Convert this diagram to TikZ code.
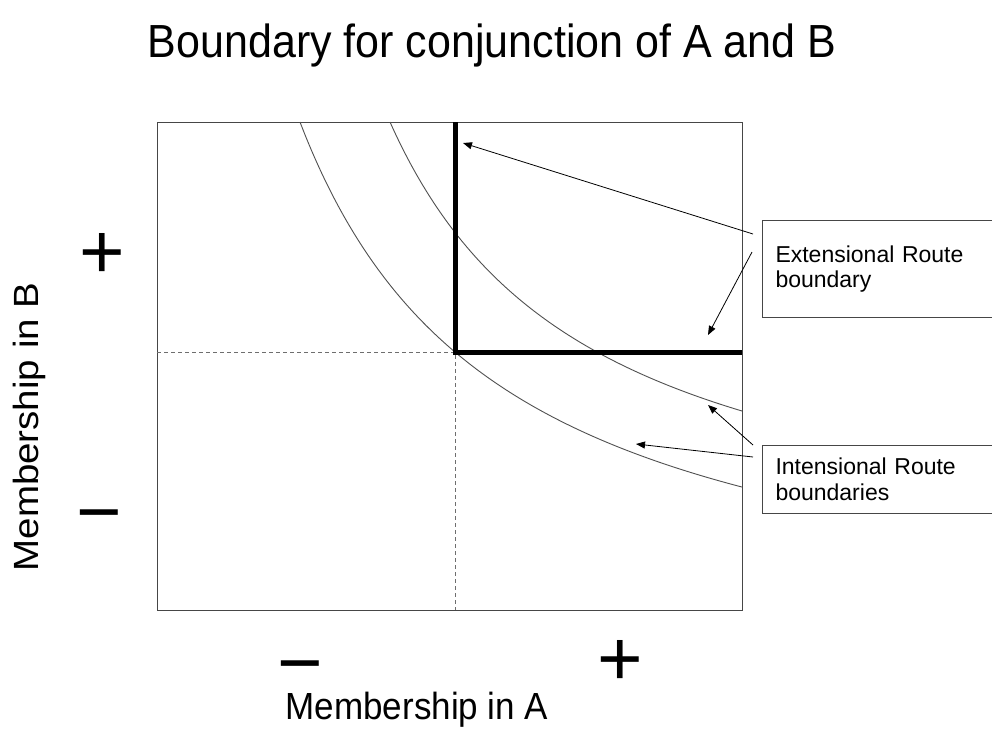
\documentclass[tikz,border=0pt]{standalone}
\usepackage{fontspec}
\setmainfont{Liberation Sans}
\usepackage{tikz}
\usetikzlibrary{arrows.meta, positioning, calc}
\definecolor{myframe}{RGB}{70,70,70}
\definecolor{mycurve}{RGB}{80,80,80}
\definecolor{mydash}{RGB}{110,110,110}
\tikzset{
  frameline/.style={line width=1pt, color=myframe},
  curveline/.style={line width=0.9pt, color=mycurve, smooth, samples=80},
  dashline/.style={line width=0.9pt, color=mydash, dash pattern=on 4pt off 3pt},
  thickline/.style={line width=5pt, color=black, line join=miter},
  notebox/.style={rectangle, draw=myframe, line width=1pt, fill=white,
    anchor=north west, text width=224pt, align=left, inner xsep=13pt,
    minimum width=250pt, font=\fontsize{23}{25.5}\selectfont},
  arrow/.style={-{Triangle[length=9pt, width=7pt]}, line width=0.8pt, color=black},
  signlabel/.style={anchor=base, inner sep=0pt, text depth=0pt, text height=40pt,
    font=\fontsize{78}{80}\selectfont},
  axislabel/.style={anchor=base, inner sep=0pt, text height=27pt,
    font=\fontsize{35}{40}\selectfont}
}

\begin{document}
\begin{tikzpicture}[x=1pt, y=-1pt]
  \useasboundingbox (0,0) rectangle (992,732);
  \clip (0,0) rectangle (992,732);

  % Title
  \node[anchor=base, inner sep=0pt, font=\fontsize{43}{50}\selectfont] (title) at (492,57)
    {\scalebox{1}[1.08]{Boundary for conjunction of A and B}};

  % Plot frame and quadrants
  \coordinate (fsw) at (157,610);
  \coordinate (fne) at (742,122);
  \coordinate (mid) at (455,352);
  \draw[frameline] (fsw) rectangle (fne);
  \draw[dashline] (mid -| fsw) -- (mid) -- (mid |- fsw);

  % Intensional boundaries (curves)
  \draw[curveline] plot[domain=300:742] (\x, {656.4 - 1095.97/((\x-94.9)/100)});
  \draw[curveline] plot[domain=390:742] (\x, {578 - 927.5/((\x-186.6)/100)});

  % Extensional boundary
  \draw[thickline] (mid |- fne) -- (mid) -- (mid -| fne);

  % Axis signs and labels
  \node[signlabel] (bplus) at (102,278) {+};
  \node[signlabel] (bminus) at (99,538) {−};
  \node[signlabel] (aminus) at (300,689) {−};
  \node[signlabel] (aplus) at (620,685) {+};
  \node[axislabel] (alabel) at (417,719) {\scalebox{1}[1.08]{Membership in A}};
  \node[axislabel, rotate=90] (blabel) at (38,427) {\scalebox{1.1}[1]{Membership in B}};

  % Note boxes
  \node[notebox, minimum height=97pt] (extbox) at (762,220) {Extensional Route\\boundary};
  \node[notebox, minimum height=68pt] (intbox) at (762,445) {Intensional Route\\boundaries};

  % Pointers
  \coordinate (exttip1) at (463,143);
  \coordinate (exttip2) at (708,335);
  \coordinate (inttip1) at (708,405);
  \coordinate (inttip2) at (636,444);
  \draw[arrow] ($(extbox.north west)+(-9,14)$) -- (exttip1);
  \draw[arrow] ($(extbox.north west)+(-10,32)$) -- (exttip2);
  \draw[arrow] ($(intbox.north west)+(-9,0)$) -- (inttip1);
  \draw[arrow] ($(intbox.north west)+(-9,12)$) -- (inttip2);
\end{tikzpicture}
\end{document}
